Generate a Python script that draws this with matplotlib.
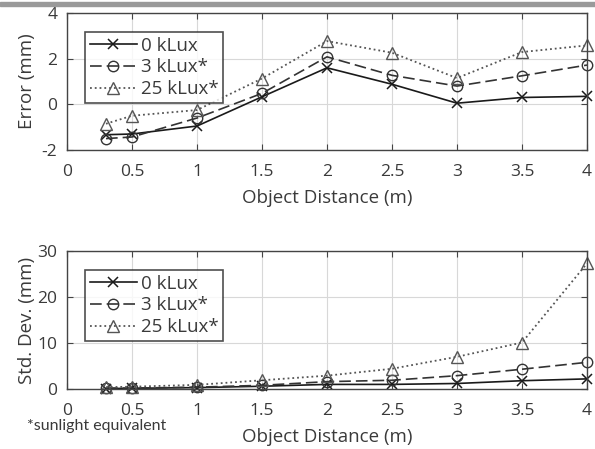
import numpy as np
import matplotlib.pyplot as plt
from matplotlib.patches import Rectangle

# Data
distance = [0.3, 0.5, 1, 1.5, 2, 2.5, 3, 3.5, 4]
labels = ['0 kLux', '3 kLux*', '25 kLux*']

err_0k = [-1.33, -1.30, -0.95, 0.33, 1.60, 0.88, 0.05, 0.30, 0.35]
err_3k = [-1.50, -1.43, -0.60, 0.48, 2.08, 1.27, 0.80, 1.25, 1.72]
err_25k = [-0.85, -0.50, -0.25, 1.13, 2.77, 2.26, 1.15, 2.29, 2.58]

std_0k = [0.1, 0.15, 0.3, 0.6, 1.0, 1.0, 1.2, 1.8, 2.2]
std_3k = [0.2, 0.2, 0.4, 0.8, 1.6, 1.9, 2.9, 4.3, 5.8]
std_25k = [0.4, 0.5, 0.9, 1.9, 2.9, 4.4, 7.0, 10.1, 27.3]

xticks = np.arange(0, 4.01, 0.5)
xtick_labels = ['0', '0.5', '1', '1.5', '2', '2.5', '3', '3.5', '4']

plt.rcParams['font.family'] = ['Open Sans', 'DejaVu Sans']
plt.rcParams['axes.unicode_minus'] = False
txt = '#3a3a3a'

fig = plt.figure(figsize=(5.95, 4.49), dpi=100)
W, H = 595, 449

def px_axes(left, top, right, bottom):
    return fig.add_axes([left / W, 1 - bottom / H, (right - left) / W, (bottom - top) / H])

ax1 = px_axes(67, 13, 587, 150)
ax2 = px_axes(67, 251, 587, 389)

styles = [
    dict(color='#1a1a1a', ls='-', marker='x', ms=7, mew=1.1, lw=1.2),
    dict(color='#333333', ls=(0, (7, 3)), marker='o', ms=7.5, mfc='none', mew=1.0, lw=1.2),
    dict(color='#555555', ls=':', marker='^', ms=8.5, mfc='none', mew=1.0, lw=1.3),
]

for ax, series, ylim, yticks, ylabel in [
    (ax1, [err_0k, err_3k, err_25k], (-2, 4), [-2, 0, 2, 4], 'Error (mm)'),
    (ax2, [std_0k, std_3k, std_25k], (0, 30), [0, 10, 20, 30], 'Std. Dev. (mm)'),
]:
    for vals, lab, st in zip(series, labels, styles):
        ax.plot(distance, vals, label=lab, clip_on=False, **st)
    ax.set_xlim(0, 4)
    ax.set_ylim(*ylim)
    ax.set_xticks(xticks)
    ax.set_xticklabels(xtick_labels)
    ax.set_yticks(yticks)
    ax.grid(True, color='#d8d8d8', lw=0.8)
    ax.set_axisbelow(True)
    ax.tick_params(direction='in', length=4, labelsize=12.5, colors='#444444',
                   labelcolor=txt, top=True, right=True)
    ax.tick_params(axis='x', pad=10)
    ax.tick_params(axis='y', pad=7)
    for s in ax.spines.values():
        s.set_color('#444444')
        s.set_linewidth(1.0)
    ax.set_ylabel(ylabel, fontsize=13.5, color=txt)
    ax.yaxis.set_label_coords(-0.06, 0.5)
    leg = ax.legend(loc='upper left', bbox_to_anchor=(0.035, 0.862),
                    fontsize=13.5, frameon=True, fancybox=False, handlelength=2.5,
                    handletextpad=0.2, borderpad=0.25, labelspacing=0.2,
                    borderaxespad=0)
    leg.get_frame().set_edgecolor('#222222')
    leg.get_frame().set_linewidth(1.2)
    for t in leg.get_texts():
        t.set_color(txt)

# x labels placed where the reference has them
fig.text(327 / W, 1 - 198 / H, 'Object Distance (m)', fontsize=13.5, color=txt,
         ha='center', va='center')
fig.text(327 / W, 1 - 437 / H, 'Object Distance (m)', fontsize=13.5, color=txt,
         ha='center', va='center')

fig.text(27 / W, 1 - 426 / H, '*sunlight equivalent', fontsize=11.5, color=txt,
         family=['Lato', 'DejaVu Sans'], va='center')

# grey strip along the top edge of the scanned page
fig.patches.append(Rectangle((0, 1 - 6 / H), 1, 4 / H, transform=fig.transFigure,
                             color='#9a9a9a', zorder=0))

fig.savefig('out.png', dpi=100)
